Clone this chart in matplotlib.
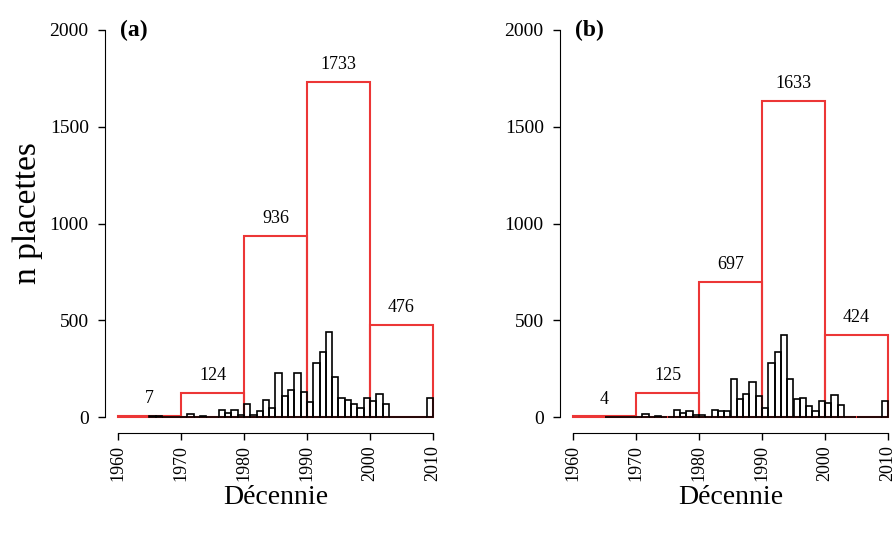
import numpy as np
import matplotlib
matplotlib.use("Agg")
import matplotlib.pyplot as plt

plt.rcParams['font.family'] = ['Liberation Serif', 'DejaVu Serif']

# yearly bars start in 1965, one value per year up to 2009
years = list(range(1965, 2010))

counts_a = [4, 3, 0, 0, 0,
            0, 15, 0, 6, 0, 0, 35, 20, 35, 10,
            65, 12, 31, 86, 48, 227, 110, 138, 227, 129,
            78, 279, 334, 439, 207, 100, 86, 65, 48, 97,
            83, 121, 69, 0, 0, 0, 0, 0, 0, 97]

counts_b = [2, 2, 0, 0, 0,
            0, 15, 0, 6, 0, 0, 38, 22, 30, 8,
            8, 0, 35, 29, 29, 198, 91, 121, 181, 110,
            48, 279, 334, 422, 198, 91, 100, 55, 31, 84,
            75, 112, 64, 0, 0, 0, 0, 0, 0, 81]

# decade totals (red boxes)
decades = [1960, 1970, 1980, 1990, 2000]
totals_a = [7, 124, 936, 1733, 476]
totals_b = [4, 125, 697, 1633, 424]

panel_labels = ["(a)", "(b)"]
xticks = [1960, 1970, 1980, 1990, 2000, 2010]
yticks = [0, 500, 1000, 1500, 2000]

red = '#ec3636'

fig = plt.figure(figsize=(8.95, 5.34), dpi=100)

# axes boxes in figure fractions (R style offset axes)
lefts = [105.4 / 895, 560.4 / 895]
bottom = (534 - 432.5) / 534
width = 340.2 / 895
height = 418 / 534

panels = [(counts_a, totals_a), (counts_b, totals_b)]

for k, (counts, totals) in enumerate(panels):
    ax = fig.add_axes([lefts[k], bottom, width, height])

    # decade boxes first, yearly bars on top
    ax.bar(decades, totals, width=10, align='edge', fill=False,
           edgecolor=red, linewidth=1.5, zorder=2)
    ax.bar(years, counts, width=1, align='edge', facecolor='none',
           edgecolor='black', linewidth=1.2, zorder=3)

    for d, t in zip(decades, totals):
        ax.text(d + 5, t + 45, str(t), ha='center', va='bottom', fontsize=13)

    ax.set_xlim(1958, 2012)
    ax.set_ylim(-80, 2080)

    for s in ['top', 'right']:
        ax.spines[s].set_visible(False)
    ax.spines['left'].set_bounds(0, 2000)
    ax.spines['bottom'].set_bounds(1960, 2010)

    ax.set_xticks(xticks)
    ax.set_xticklabels([str(x) for x in xticks], rotation=90)
    ax.set_yticks(yticks)
    ax.tick_params(length=5, width=1)
    ax.tick_params(axis='y', pad=7, labelsize=14)
    ax.tick_params(axis='x', pad=4, labelsize=13)

    ax.text(1960.3, 2000, panel_labels[k], fontsize=17, fontweight='bold',
            ha='left', va='center')
    ax.set_xlabel("Décennie", fontsize=20, labelpad=3)

fig.text(28 / 895, 1 - 213 / 534, "n placettes", rotation=90,
         ha='center', va='center', fontsize=24)

plt.savefig("out.png", dpi=100)
